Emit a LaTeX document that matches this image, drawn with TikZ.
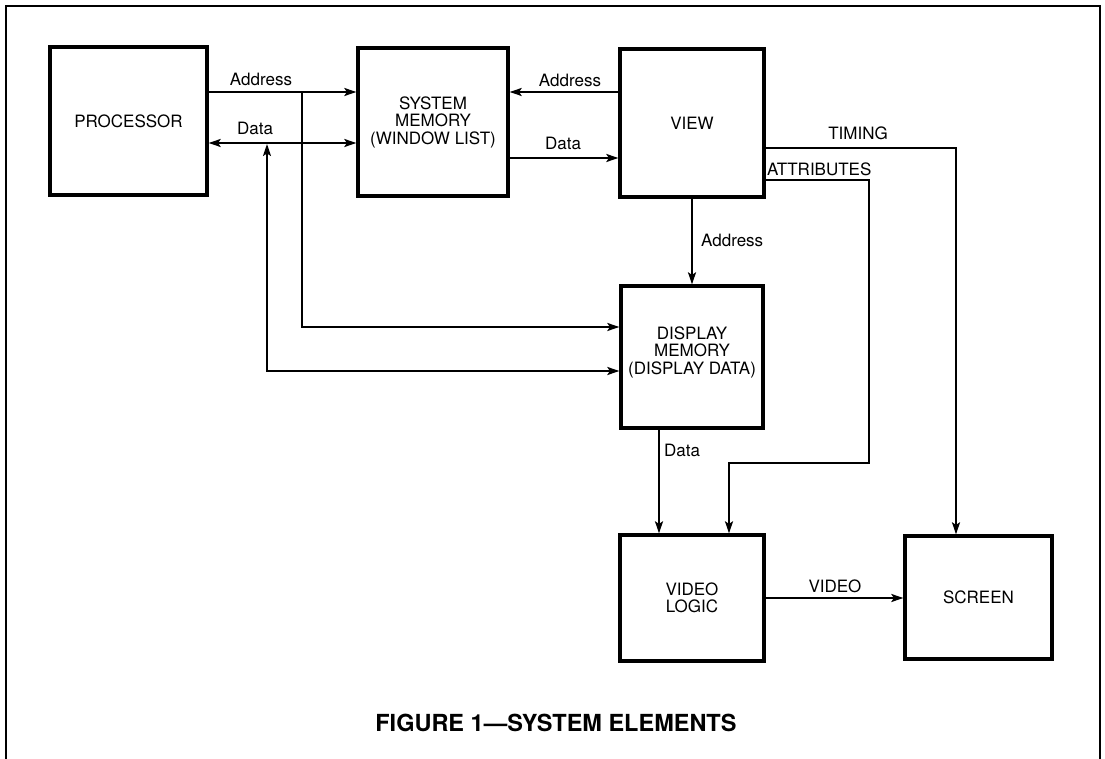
\documentclass[tikz,border=0pt]{standalone}
\usepackage{fontspec}
\setmainfont{TeX Gyre Heros}
\usetikzlibrary{arrows.meta,calc}
\begin{document}
\begin{tikzpicture}[x=1pt,y=-1pt,
  box/.style={draw, line width=3.3pt, inner sep=0pt, align=center, font=\fontsize{17}{17.5}\selectfont},
  conn/.style={line width=1.9pt},
  arrowed/.style={-{Stealth[length=12pt,width=8pt,inset=2.5pt]}},
  arrowboth/.style={{Stealth[length=12pt,width=8pt,inset=2.5pt]}-{Stealth[length=12pt,width=8pt,inset=2.5pt]}},
  lbl/.style={font=\fontsize{17}{17.5}\selectfont, inner sep=0pt, anchor=base},
  frame/.style={line width=2.2pt}]
\useasboundingbox (0,0) rectangle (1105,759);

% frame (open at bottom)
\draw[frame] (6,760) -- (6,6) -- (1100,6) -- (1100,760);

% boxes
\node[box, minimum width=157pt, minimum height=148pt] (proc) at (128.5,121) {PROCESSOR};
\node[box, minimum width=150pt, minimum height=148pt] (sysmem) at (433,122) {SYSTEM\\MEMORY\\(WINDOW LIST)};
\node[box, minimum width=144pt, minimum height=148pt] (view) at (692,123) {VIEW};
\node[box, minimum width=142pt, minimum height=142pt,
      label={[name=dmtext, align=center, font=\fontsize{17}{17.5}\selectfont, yshift=5pt]center:DISPLAY\\MEMORY\\(DISPLAY DATA)}] (dispmem) at (692,357) {};
\node[box, minimum width=144pt, minimum height=126pt] (vlogic) at (692,598) {VIDEO\\LOGIC};
\node[box, minimum width=147pt, minimum height=123pt] (screen) at (978.5,597.5) {SCREEN};

% helper coordinates
\coordinate (ya) at (0,92);
\coordinate (yd) at (0,143);
\coordinate (yr) at (0,158);
\coordinate (ab) at (302,92);
\coordinate (abc) at (302,327);
\coordinate (db) at (267,144);
\coordinate (dbc) at (267,371);
\coordinate (tim) at (956,148);
\coordinate (att) at (869,180);
\coordinate (attb) at (869,463);
\coordinate (attc) at (729,463);
\coordinate (dx) at (659,0);

% connectors
\draw[conn,arrowed] (proc.east |- ya) -- (sysmem.west |- ya);
\draw[conn,arrowboth] (proc.east |- yd) -- (sysmem.west |- yd);
\draw[conn,arrowed] (ab) -- (abc) -- (dispmem.west |- abc);
\draw[conn,arrowboth] (db) -- (dbc) -- (dispmem.west |- dbc);
\draw[conn,arrowed] (view.west |- ya) -- (sysmem.east |- ya);
\draw[conn,arrowed] (sysmem.east |- yr) -- (view.west |- yr);
\draw[conn,arrowed] (view.south) -- (dispmem.north);
\draw[conn,arrowed] (view.east |- tim) -- (tim) -- (tim |- screen.north);
\draw[conn,arrowed] (view.east |- att) -- (att) -- (attb) -- (attc) -- (attc |- vlogic.north);
\draw[conn,arrowed] (dispmem.south -| dx) -- (vlogic.north -| dx);
\draw[conn,arrowed] (vlogic.east) -- (vlogic.east -| screen.west);

% labels
\node[lbl] (l1) at (261,86) {Address};
\node[lbl] (l2) at (255,135) {Data};
\node[lbl] (l3) at (570,87) {Address};
\node[lbl] (l4) at (563,150) {Data};
\node[lbl] (l5) at (858,140) {TIMING};
\node[lbl, anchor=base west] (l6) at (767,176) {ATTRIBUTES};
\node[lbl, anchor=base west] (l7) at (701,247) {Address};
\node[lbl, anchor=base west] (l8) at (664,456) {Data};
\node[lbl] (l9) at (835,592) {VIDEO};

% caption
\node[font=\bfseries\fontsize{23.5}{26}\selectfont, anchor=base, inner sep=0pt] (cap) at (556,731) {FIGURE 1—SYSTEM ELEMENTS};
\end{tikzpicture}
\end{document}
